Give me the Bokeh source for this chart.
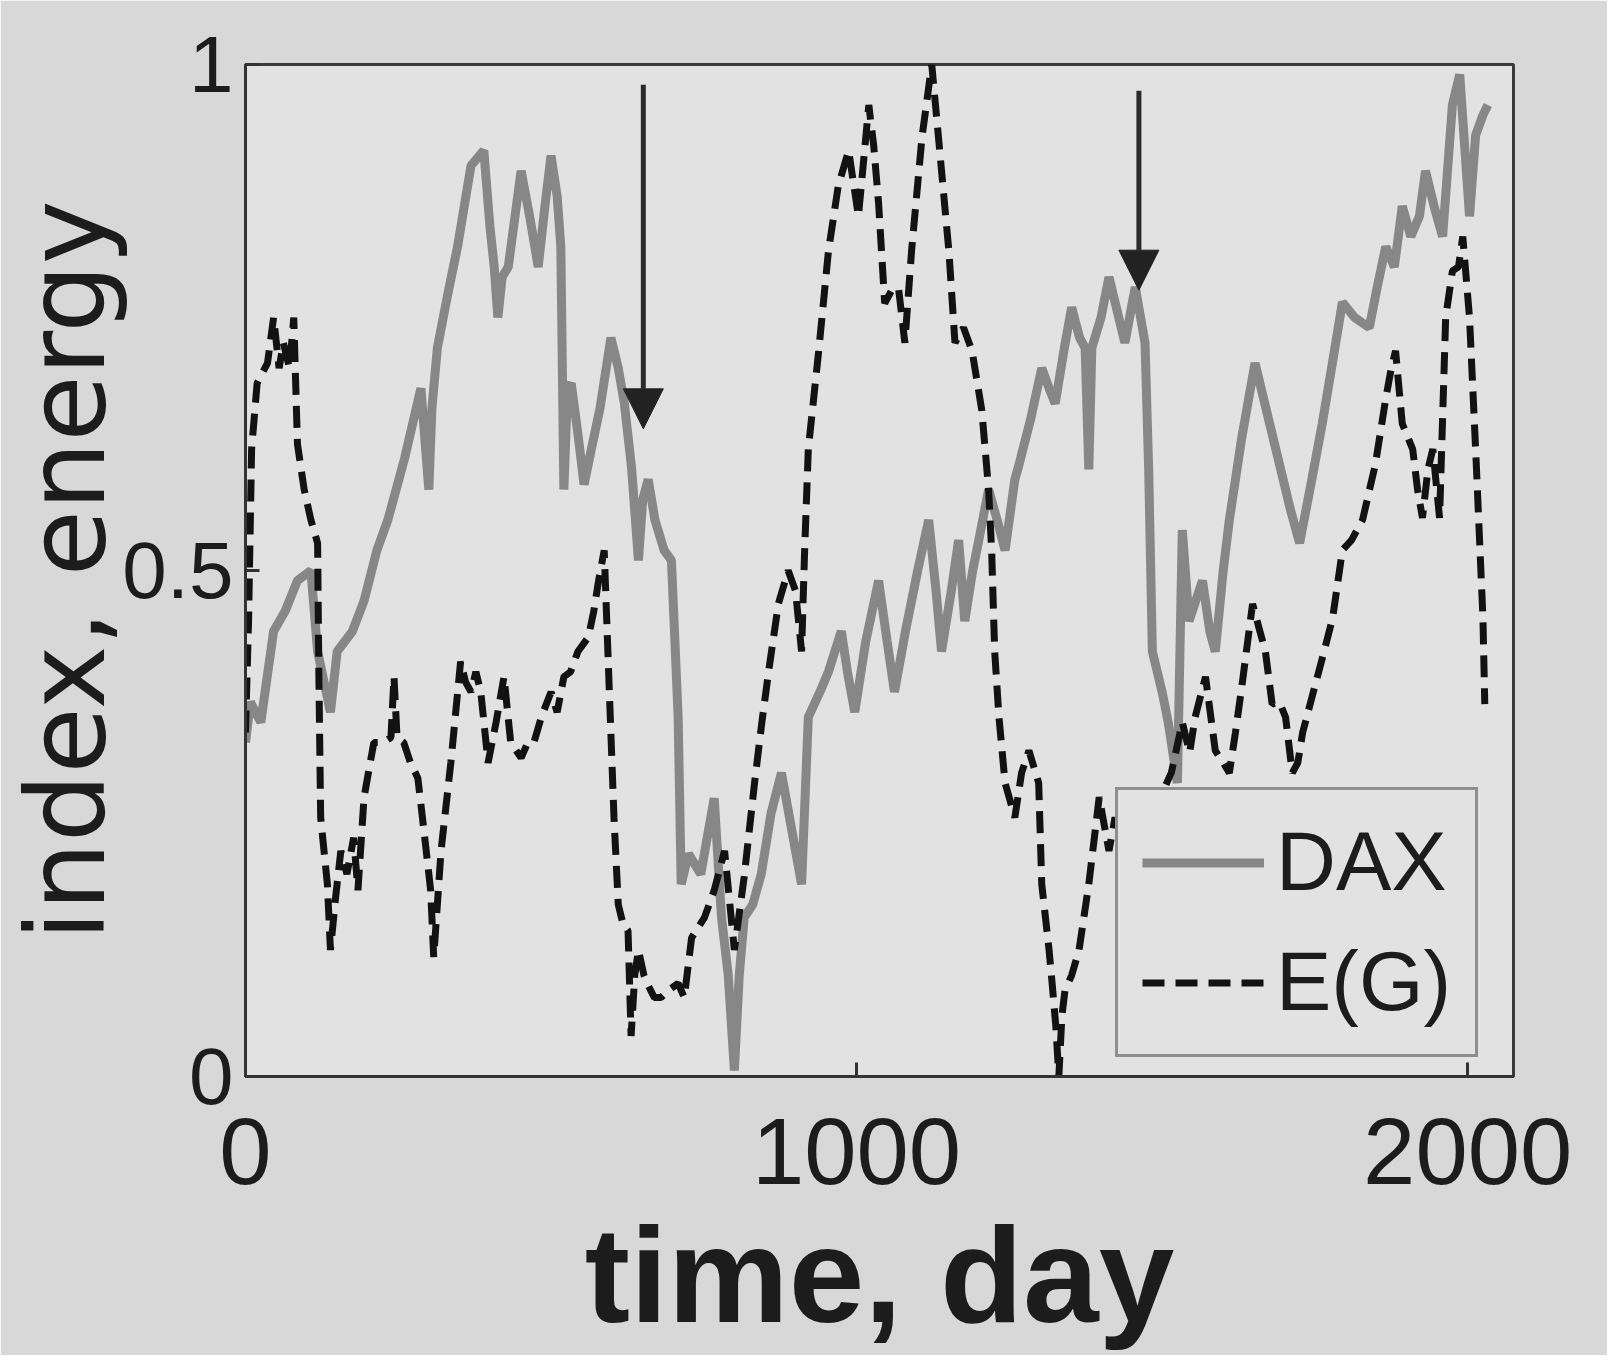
from bokeh.plotting import figure
from bokeh.models import Range1d, FixedTicker, Arrow, NormalHead, Legend, LegendItem, ColumnDataSource
from bokeh.embed import file_html
from bokeh.resources import INLINE

# ---- data ----
dax_day = [0, 8, 25, 46, 65, 85, 107, 118, 139, 150, 175, 194, 215, 233, 260, 287, 300, 305, 314, 330,
           347, 369, 390, 400, 407, 413, 420, 430, 451, 465, 479, 490, 500, 510, 516, 521, 527, 533, 545, 554,
           566, 580, 598, 610, 620, 632, 643, 650, 659, 670, 685, 697, 702, 708, 713, 725, 745, 767, 779, 790,
           800, 808, 816, 830, 844, 860, 877, 895, 910, 921, 940, 954, 975, 985, 997, 1015, 1036, 1050, 1062, 1080,
           1100, 1118, 1130, 1139, 1155, 1167, 1177, 1190, 1200, 1216, 1230, 1243, 1259, 1266, 1285, 1303, 1315, 1325, 1340, 1352,
           1365, 1374, 1380, 1385, 1400, 1413, 1425, 1439, 1456, 1472, 1478, 1484, 1500, 1510, 1525, 1533, 1544, 1555, 1566, 1578,
           1587, 1600, 1610, 1630, 1652, 1670, 1692, 1710, 1725, 1745, 1762, 1780, 1795, 1815, 1839, 1852, 1866, 1880, 1893, 1907,
           1921, 1931, 1945, 1959, 1975, 1987, 1995, 2003, 2013, 2025, 2033]
dax = [0.33, 0.37, 0.35, 0.44, 0.46, 0.49, 0.50, 0.42, 0.36, 0.42, 0.44, 0.47, 0.52, 0.55, 0.61, 0.68, 0.58, 0.66, 0.72, 0.77,
       0.82, 0.90, 0.915, 0.84, 0.80, 0.75, 0.79, 0.80, 0.895, 0.85, 0.80, 0.86, 0.91, 0.87, 0.82, 0.58, 0.68, 0.685, 0.63, 0.585,
       0.62, 0.66, 0.73, 0.70, 0.665, 0.60, 0.51, 0.57, 0.59, 0.55, 0.52, 0.51, 0.44, 0.355, 0.19, 0.22, 0.20, 0.275, 0.157, 0.10,
       0.006, 0.10, 0.157, 0.17, 0.20, 0.26, 0.30, 0.24, 0.19, 0.355, 0.38, 0.40, 0.44, 0.40, 0.36, 0.43, 0.49, 0.43, 0.38, 0.44,
       0.50, 0.55, 0.48, 0.42, 0.48, 0.53, 0.45, 0.50, 0.53, 0.58, 0.55, 0.52, 0.59, 0.605, 0.65, 0.70, 0.68, 0.665, 0.72, 0.76,
       0.73, 0.72, 0.60, 0.72, 0.75, 0.79, 0.76, 0.725, 0.78, 0.725, 0.60, 0.42, 0.38, 0.35, 0.29, 0.54, 0.45, 0.47, 0.49, 0.44,
       0.42, 0.50, 0.55, 0.63, 0.705, 0.66, 0.605, 0.56, 0.527, 0.59, 0.645, 0.71, 0.765, 0.75, 0.74, 0.78, 0.82, 0.80, 0.86, 0.83,
       0.85, 0.895, 0.86, 0.83, 0.96, 0.99, 0.92, 0.85, 0.93, 0.95, 0.96]

eg_day = [0, 5, 10, 19, 36, 46, 55, 62, 72, 79, 85, 96, 107, 118, 120, 123, 134, 139, 148, 156,
          166, 177, 184, 194, 210, 225, 238, 243, 248, 259, 270, 282, 292, 303, 308, 314, 320, 336, 352, 360,
          369, 377, 385, 397, 410, 423, 434, 451, 462, 472, 484, 500, 510, 521, 532, 544, 561, 570, 577, 587,
          593, 603, 610, 618, 626, 631, 637, 643, 652, 659, 669, 680, 692, 708, 718, 730, 751, 767, 784, 800,
          816, 833, 845, 856, 872, 888, 900, 910, 915, 921, 938, 954, 970, 987, 1003, 1020, 1028, 1036, 1046, 1060,
          1069, 1079, 1090, 1107, 1123, 1134, 1151, 1161, 1175, 1189, 1205, 1216, 1221, 1226, 1233, 1243, 1259, 1270, 1282, 1298,
          1303, 1315, 1320, 1326, 1331, 1336, 1341, 1352, 1364, 1380, 1397, 1413, 1423, 1440, 1460, 1480, 1500, 1515, 1533, 1545,
          1554, 1571, 1587, 1600, 1610, 1620, 1631, 1640, 1648, 1660, 1669, 1680, 1692, 1702, 1713, 1722, 1730, 1751, 1765, 1779,
          1795, 1810, 1828, 1849, 1866, 1875, 1882, 1893, 1910, 1918, 1926, 1935, 1943, 1954, 1964, 1975, 1985, 1992, 2003, 2013,
          2025, 2028]
eg = [0.34, 0.45, 0.62, 0.685, 0.705, 0.75, 0.70, 0.725, 0.70, 0.75, 0.625, 0.58, 0.55, 0.527, 0.40, 0.256, 0.19, 0.125, 0.18, 0.223,
      0.20, 0.236, 0.184, 0.276, 0.33, 0.33, 0.335, 0.395, 0.335, 0.33, 0.31, 0.295, 0.243, 0.184, 0.118, 0.17, 0.223, 0.31, 0.41, 0.39,
      0.38, 0.40, 0.38, 0.31, 0.35, 0.395, 0.33, 0.315, 0.33, 0.33, 0.355, 0.38, 0.36, 0.395, 0.40, 0.42, 0.434, 0.46, 0.487, 0.52,
      0.42, 0.256, 0.17, 0.15, 0.144, 0.04, 0.10, 0.125, 0.10, 0.09, 0.078, 0.078, 0.085, 0.092, 0.078, 0.137, 0.157, 0.184, 0.223, 0.125,
      0.197, 0.29, 0.35, 0.40, 0.467, 0.50, 0.48, 0.42, 0.52, 0.62, 0.717, 0.816, 0.88, 0.915, 0.85, 0.96, 0.92, 0.863, 0.764, 0.78,
      0.777, 0.725, 0.816, 0.928, 1.0, 0.928, 0.816, 0.725, 0.74, 0.717, 0.658, 0.58, 0.52, 0.42, 0.355, 0.29, 0.256, 0.30, 0.322, 0.29,
      0.19, 0.125, 0.092, 0.05, 0.0, 0.06, 0.085, 0.10, 0.125, 0.19, 0.276, 0.223, 0.256, 0.20, 0.15, 0.22, 0.28, 0.30, 0.35, 0.32,
      0.355, 0.395, 0.322, 0.31, 0.30, 0.34, 0.388, 0.43, 0.467, 0.44, 0.42, 0.368, 0.37, 0.355, 0.30, 0.31, 0.34, 0.388, 0.42, 0.453,
      0.52, 0.53, 0.55, 0.605, 0.67, 0.70, 0.717, 0.645, 0.62, 0.58, 0.552, 0.60, 0.62, 0.552, 0.75, 0.796, 0.80, 0.83, 0.75, 0.62,
      0.453, 0.368]

x_ticks = [0, 1000, 2000]
y_ticks = [0, 0.5, 1]
y_tick_labels = {0: "0", 0.5: "0.5", 1: "1"}

arrow_day = [651, 1462]
arrow_from = [0.98, 0.974]
arrow_to = [0.64, 0.777]

FONT = "Liberation Sans"
INK = "#1c1c1c"
FRAME = "#333333"

p = figure(width=1607, height=1355, x_range=Range1d(0, 2075), y_range=Range1d(0, 1),
           output_backend="svg", toolbar_location=None,
           min_border_left=245, min_border_right=94, min_border_top=64, min_border_bottom=279)

p.background_fill_color = "#e2e2e2"
p.border_fill_color = "#d8d8d8"
p.outline_line_color = "#3a3a3a"
p.outline_line_width = 3
p.grid.visible = False

r_dax = p.line(dax_day, dax, line_color="#878787", line_width=9)
r_eg = p.line(eg_day, eg, line_color="#121212", line_width=7, line_dash="22 11")

src = ColumnDataSource(dict(x=arrow_day, y0=arrow_from, y1=arrow_to))
p.add_layout(Arrow(end=NormalHead(size=40, fill_color="#222222", line_color="#222222"),
                   x_start="x", y_start="y0", x_end="x", y_end="y1", source=src,
                   line_color="#2a2a2a", line_width=5))

xa = p.below[0]
ya = p.left[0]

for ax in (xa, ya):
    ax.axis_line_color = FRAME
    ax.axis_line_width = 3
    ax.major_tick_in = 14
    ax.major_tick_out = 0
    ax.major_tick_line_width = 3
    ax.major_tick_line_color = FRAME
    ax.minor_tick_line_color = None
    ax.major_label_text_font = FONT
    ax.major_label_text_color = INK
    ax.axis_label_text_font = FONT
    ax.axis_label_text_color = INK

xa.ticker = FixedTicker(ticks=x_ticks)
xa.major_label_text_font_size = "94px"
xa.major_label_standoff = 42
xa.axis_label = "time, day"
xa.axis_label_text_font_size = "136px"
xa.axis_label_text_font_style = "bold"
xa.axis_label_standoff = 12

ya.ticker = FixedTicker(ticks=y_ticks)
ya.major_label_overrides = y_tick_labels
ya.major_label_text_font_size = "80px"
ya.major_label_standoff = 12
ya.axis_label = "index, energy"
ya.axis_label_text_font = "DejaVu Sans"
ya.axis_label_text_font_size = "108px"
ya.axis_label_text_font_style = "normal"
ya.axis_label_standoff = -10

legend = Legend(items=[LegendItem(label="DAX", renderers=[r_dax]),
                       LegendItem(label="E(G)", renderers=[r_eg])],
                location=(870, 19))
legend.label_text_font = FONT
legend.label_text_font_size = "83px"
legend.label_text_color = INK
legend.glyph_width = 122
legend.glyph_height = 95
legend.label_standoff = 12
legend.padding = 24
legend.spacing = 24
legend.margin = 0
legend.border_line_color = "#3a3a3a"
legend.border_line_width = 3
legend.background_fill_color = "#e2e2e2"
legend.background_fill_alpha = 1.0
p.add_layout(legend)

open("out.html", "w").write(file_html(p, INLINE))
